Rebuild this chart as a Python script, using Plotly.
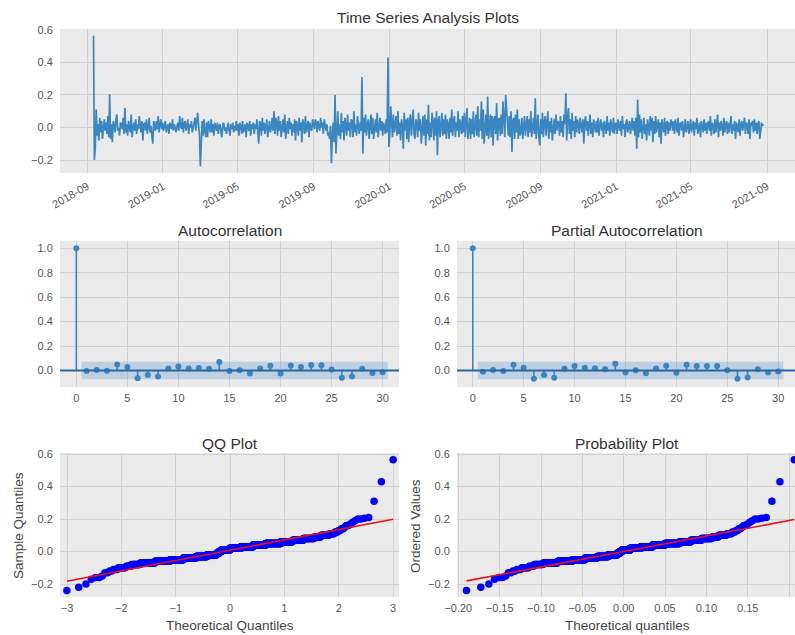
import numpy as np
import pandas as pd
import plotly.graph_objects as go
from statistics import NormalDist

# ---------------- data ----------------
returns_2018 = [
    0.565, -0.20, -0.12, 0.11, -0.05, 0.02, -0.08, 0.06, -0.03, 0.04, -0.07, 0.01, 0.05, -0.02,
    0.03, -0.04, 0.07, -0.06, 0.205, -0.07, 0.02, -0.09, 0.04, 0.01, -0.03, 0.05, 0.08, -0.02, 0.00, -0.05, 0.03, 0.02, -0.01, 0.06, -0.04, 0.12, -0.03,
    0.02, -0.05, 0.04, 0.01, -0.03, 0.08, -0.06, 0.00, 0.03, -0.02, 0.05, -0.04, 0.02, -0.01, 0.07, 0.01, -0.03, 0.04, -0.08, 0.02, 0.03,
    -0.02, 0.05, -0.04, 0.03, 0.06, -0.03, 0.01, -0.05, -0.10, 0.04, 0.00, -0.02, 0.04, -0.01, 0.07, -0.03, 0.02, 0.05, -0.01,
]
returns_2019 = [
    0.03, -0.02, 0.01, 0.04, -0.03, 0.00, 0.02, -0.04, 0.03, 0.01, -0.01, 0.05, -0.02, 0.02, 0.00, -0.03, 0.01, 0.03, -0.02, 0.07, 0.01,
    -0.01, 0.06, -0.03, 0.02, 0.04, -0.02, 0.01, 0.05, -0.04, 0.02, 0.00, 0.04, -0.03, 0.01, 0.03, 0.06, -0.02, 0.04, 0.09,
    0.02, -0.04, -0.24, -0.07, 0.04, -0.05, 0.05, -0.02, -0.06, 0.03, -0.06, 0.04, 0.01, -0.03, 0.05, -0.03, 0.02, -0.05, 0.03, 0.00, -0.02,
    0.03, -0.04, 0.01, 0.02, -0.03, -0.06, 0.02, 0.03, -0.02, 0.00, -0.04, 0.01, 0.03, -0.02, -0.05, 0.02, -0.01, 0.03, -0.03, 0.01, -0.02,
    0.04, -0.02, 0.02, -0.05, 0.03, 0.01, -0.04, 0.04, -0.03, 0.00, 0.02, -0.06, 0.03, 0.01, -0.02, 0.04, -0.05, 0.02, -0.01, 0.03, -0.04, 0.02,
    -0.01, 0.05, -0.03, -0.10, 0.04, 0.02, -0.05, 0.06, -0.02, 0.03, -0.04, 0.01, 0.05, -0.06, 0.02, 0.04, -0.03, 0.00, 0.06, -0.02,
    0.10, -0.04, 0.06, 0.03, -0.05, 0.07, -0.02, 0.04, -0.06, 0.01, 0.05, -0.03, 0.08, -0.07, 0.02, 0.04, -0.04, 0.06, -0.01, 0.03, -0.05, 0.02,
    -0.03, 0.05, -0.08, 0.04, 0.01, -0.05, 0.06, -0.02, 0.03, -0.09, 0.05, 0.02, -0.04, 0.07, -0.03, 0.01, 0.04, -0.06, 0.03, 0.00, -0.02, 0.05,
    0.02, -0.01, 0.05, 0.03, -0.03, 0.04, 0.01, -0.02, 0.06, 0.00, 0.03, -0.04, 0.05, 0.01, -0.02, 0.02, -0.05, -0.03, -0.07, 0.01,
    -0.22, -0.04, 0.03, -0.09, 0.20, -0.16, 0.05, 0.10, -0.05, 0.02, -0.07, 0.09, -0.03, 0.04, -0.08, 0.06, 0.01, -0.05, 0.08, -0.02, 0.03, -0.06, 0.05,
    0.04, -0.06, 0.10, -0.03, 0.02, -0.05, 0.07, 0.01, -0.04, 0.03, -0.02, 0.31, -0.16, 0.06, -0.03, 0.08, -0.05, 0.02, 0.05, -0.07,
    0.03, 0.08, -0.04, 0.06, -0.07, 0.02, 0.05, -0.03, 0.09, -0.06, 0.01, 0.06, -0.02, 0.04, -0.05, 0.03, 0.00, -0.04, 0.05, -0.03, 0.43,
]
returns_2020 = [
    -0.12, -0.04, 0.13, 0.04, -0.06, 0.08, -0.03, 0.02, 0.07, -0.05, 0.10, -0.04, 0.03, -0.08, 0.05, 0.01, -0.13, 0.09, -0.02, 0.05, -0.07,
    0.06, -0.09, 0.04, 0.08, -0.05, 0.02, 0.11, -0.04, -0.07, 0.05, 0.03, -0.06, 0.09, -0.02, 0.05, -0.10, 0.04, 0.07, -0.05,
    0.08, -0.11, 0.05, -0.04, 0.14, -0.08, 0.03, -0.06, 0.09, 0.04, -0.08, 0.06, -0.05, 0.10, -0.17, 0.04, 0.07, -0.06, 0.02, 0.09, -0.05, 0.05,
    -0.04, 0.08, -0.07, 0.05, 0.02, -0.07, 0.06, -0.03, 0.11, -0.05, 0.04, 0.07, -0.06, 0.03, -0.02, 0.10, -0.06, 0.05, 0.01, -0.04, 0.07,
    -0.03, 0.09, -0.06, 0.04, 0.12, -0.07, 0.02, 0.06, -0.07, 0.05, -0.04, 0.10, -0.06, 0.03, 0.08, -0.05, 0.13, -0.06, 0.05, -0.02,
    0.16, -0.07, 0.11, -0.10, 0.05, 0.08, -0.05, 0.19, -0.07, 0.03, 0.08, -0.06, 0.07, -0.11, 0.05, 0.07, -0.04, 0.15, -0.08, 0.04, 0.06, -0.05,
    0.08, -0.04, 0.16, 0.05, -0.06, 0.20, 0.14, 0.03, -0.05, 0.07, -0.06, 0.10, -0.15, 0.04, 0.06, -0.07, 0.08, -0.03, 0.11, -0.07, 0.05, -0.05,
    -0.03, 0.06, -0.07, 0.04, 0.07, -0.05, 0.02, 0.07, -0.06, 0.05, -0.03, 0.10, -0.06, 0.03, 0.06, -0.04, 0.18, -0.07, 0.04, 0.08, -0.06,
    -0.11, 0.05, -0.04, 0.09, -0.06, 0.03, 0.07, -0.05, 0.02, 0.10, -0.07, 0.04, -0.03, 0.06, -0.08, 0.03, 0.05, -0.04, 0.08, -0.02, 0.04,
    0.03, -0.05, 0.07, -0.03, 0.04, -0.06, 0.08, 0.02, 0.21, -0.08, 0.06, 0.12, -0.04, 0.05, -0.07, 0.09, -0.02, 0.04, -0.06, 0.07, -0.03, 0.05,
    0.02, -0.04, 0.06, 0.01, -0.03, 0.05, -0.10, 0.03, 0.07, -0.02, 0.04, -0.05, 0.02, 0.08, -0.04, 0.03, -0.06, 0.05, 0.01, -0.03,
    0.04, -0.03, 0.06, -0.05, 0.02, 0.05, -0.02, 0.03, -0.06, 0.04, 0.01, -0.04, 0.07, -0.02, 0.03, -0.05, 0.05, 0.00, -0.03, 0.06, -0.04, 0.02,
]
returns_2021 = [
    0.03, -0.04, 0.05, 0.01, -0.02, 0.04, -0.05, 0.07, -0.01, 0.02, -0.06, 0.03, 0.05, -0.03, 0.01, 0.04, -0.04, 0.02, 0.06, -0.02,
    0.04, -0.05, 0.06, -0.13, 0.17, -0.06, 0.08, -0.03, 0.05, -0.07, 0.03, 0.06, -0.04, 0.02, -0.08, 0.05, 0.01, -0.05, 0.07,
    -0.02, 0.06, -0.09, 0.04, -0.04, 0.07, -0.03, 0.02, 0.05, -0.06, 0.03, -0.10, 0.05, 0.01, -0.03, 0.06, -0.05, 0.02, 0.04, -0.04, 0.03, -0.02, 0.05,
    0.03, -0.02, 0.04, -0.04, 0.05, 0.01, -0.03, 0.06, -0.05, 0.02, 0.03, -0.02, 0.04, -0.06, 0.02, 0.05, -0.03, 0.01, 0.04, -0.04, 0.02,
    0.05, -0.03, 0.02, 0.04, -0.05, 0.03, -0.01, 0.06, -0.04, 0.02, 0.03, -0.06, 0.04, 0.01, -0.03, 0.05, -0.02, 0.03, -0.04, 0.02,
    0.04, -0.02, 0.07, -0.05, 0.03, 0.01, -0.04, 0.05, -0.03, 0.02, 0.08, -0.06, 0.03, -0.02, 0.04, 0.01, -0.05, 0.06, -0.03, 0.02, 0.04, -0.04,
    0.03, -0.03, 0.05, 0.07, -0.04, 0.02, -0.02, 0.04, -0.07, 0.03, 0.01, -0.03, 0.05, -0.05, 0.02, 0.04, -0.02, 0.01, 0.06, -0.04, 0.03,
    0.02, -0.04, 0.05, -0.07, 0.03, 0.01, 0.04, -0.03, 0.05, -0.02, 0.03, -0.04, 0.02, 0.04, -0.07, -0.03, 0.03, 0.01, 0.02,
]
series_start = "2018-09-11"
series_end = "2021-08-26"

acf_lags = list(range(31))
acf_values = [1.0, -0.005, 0.005, -0.003, 0.05, 0.028, -0.063, -0.036, -0.05, 0.016, 0.033,
              0.016, 0.02, 0.014, 0.07, -0.005, 0.003, -0.025, 0.016, 0.038, -0.025,
              0.04, 0.028, 0.045, 0.043, 0.008, -0.06, -0.05, 0.014, -0.02, -0.015]
pacf_values = [1.0, -0.01, 0.005, -0.005, 0.047, 0.022, -0.068, -0.036, -0.06, 0.014, 0.036,
               0.022, 0.019, 0.011, 0.055, -0.016, 0.003, -0.022, 0.016, 0.039, -0.019,
               0.047, 0.036, 0.036, 0.036, 0.003, -0.068, -0.058, 0.011, -0.016, -0.008]
conf_limit = 0.072

titles = ["Time Series Analysis Plots", "Autocorrelation", "Partial Autocorrelation",
          "QQ Plot", "Probability Plot"]

# ---------------- derived quantities ----------------
values = np.array(returns_2018 + returns_2019 + returns_2020 + returns_2021, dtype=float)
dates = pd.date_range(series_start, series_end, periods=len(values))

n = len(values)
nd = NormalDist()
sorted_vals = np.sort(values)
mu, sd = values.mean(), values.std()

# statsmodels-style QQ (plotting positions i/(n+1)), standardized line
qq_theo = np.array([nd.inv_cdf(i / (n + 1)) for i in range(1, n + 1)])
qq_line_x = np.array([qq_theo[0], qq_theo[-1]])
qq_line_y = mu + sd * qq_line_x

# scipy-style probability plot (Filliben positions), loc/scale = mean/std
m_n = 0.5 ** (1.0 / n)
unif = np.empty(n)
unif[-1] = m_n
unif[0] = 1 - m_n
unif[1:-1] = (np.arange(2, n) - 0.3175) / (n + 0.365)
osm = mu + sd * np.array([nd.inv_cdf(u) for u in unif])
slope, intercept = np.polyfit(osm, sorted_vals, 1)
pp_line_x = np.array([osm[0], osm[-1]])
pp_line_y = intercept + slope * pp_line_x


def stems(lags, vals):
    xs, ys = [], []
    for l, v in zip(lags, vals):
        xs += [l, l, None]
        ys += [0, v, None]
    return xs, ys


# ---------------- styling ----------------
FONT = "Liberation Sans, Arial, Helvetica, sans-serif"
BG = "#EAEAEA"
GRID = "#D0D0D0"
BLUE = "#3A86C0"
TICK = "#555555"

W, H = 795, 635
L, R, T, B = 60, 0, 29, 38
PW, PH = W - L - R, H - T - B


def px(xp):
    return (xp - L) / PW


def py(yp):
    return (H - B - yp) / PH


fig = go.Figure()

# time series
fig.add_trace(go.Scatter(x=dates, y=values, mode="lines", line=dict(color=BLUE, width=1.7),
                         xaxis="x", yaxis="y", hoverinfo="skip"))


def add_corr(lags, vals, xa, ya):
    bx0, bx1 = lags[1] - 0.5, lags[-1] + 0.5
    fig.add_trace(go.Scatter(x=[bx0, bx1, bx1, bx0, bx0],
                             y=[-conf_limit, -conf_limit, conf_limit, conf_limit, -conf_limit],
                             fill="toself", fillcolor="rgba(90,150,205,0.30)",
                             line=dict(width=0), mode="lines", xaxis=xa, yaxis=ya, hoverinfo="skip"))
    sx, sy = stems(lags, vals)
    fig.add_trace(go.Scatter(x=sx, y=sy, mode="lines", line=dict(color=BLUE, width=1.6),
                             xaxis=xa, yaxis=ya, hoverinfo="skip"))
    fig.add_trace(go.Scatter(x=lags, y=vals, mode="markers",
                             marker=dict(color=BLUE, size=6), xaxis=xa, yaxis=ya, hoverinfo="skip"))
    fig.add_shape(type="line", xref=f"{xa} domain", yref=ya, x0=0, x1=1, y0=0, y1=0,
                  line=dict(color="#2A66A6", width=2))


add_corr(acf_lags, acf_values, "x2", "y2")
add_corr(acf_lags, pacf_values, "x3", "y3")

# QQ plot
fig.add_trace(go.Scatter(x=qq_theo, y=sorted_vals, mode="markers",
                         marker=dict(color="#0000FF", size=7.5), xaxis="x4", yaxis="y4", hoverinfo="skip"))
fig.add_trace(go.Scatter(x=qq_line_x, y=qq_line_y, mode="lines", line=dict(color="#EE1111", width=1.6),
                         xaxis="x4", yaxis="y4", hoverinfo="skip"))

# Probability plot
fig.add_trace(go.Scatter(x=osm, y=sorted_vals, mode="markers",
                         marker=dict(color="#0000FF", size=7.5), xaxis="x5", yaxis="y5", hoverinfo="skip"))
fig.add_trace(go.Scatter(x=pp_line_x, y=pp_line_y, mode="lines", line=dict(color="#EE1111", width=1.6),
                         xaxis="x5", yaxis="y5", hoverinfo="skip"))


def ax(**kw):
    d = dict(showgrid=True, gridcolor=GRID, gridwidth=1, zeroline=False, showline=False,
             ticks="outside", ticklen=4, tickcolor="rgba(0,0,0,0)",
             tickfont=dict(size=11, color=TICK, family=FONT), fixedrange=True)
    d.update(kw)
    return d


left_dom = [0, px(399)]
right_dom = [px(457), 1]

layout = dict(
    width=W, height=H, margin=dict(l=L, r=R, t=T, b=B),
    paper_bgcolor="white", plot_bgcolor=BG, showlegend=False,
    font=dict(family=FONT, color="#333333"),
    xaxis=ax(domain=[0, 1], anchor="y", type="date",
             range=["2018-07-19", "2021-10-16"], tick0="2018-09-01", dtick="M4",
             tickformat="%Y-%m", tickangle=-30, ticklen=2),
    yaxis=ax(domain=[py(173), 1], anchor="x", range=[-0.28, 0.606],
             tickvals=[-0.2, 0.0, 0.2, 0.4, 0.6], tickformat=".1f"),
    xaxis2=ax(domain=left_dom, anchor="y2", range=[-1.6, 31.6], tickvals=[0, 5, 10, 15, 20, 25, 30], ticklen=1),
    yaxis2=ax(domain=[py(387), py(241)], anchor="x2", range=[-0.135, 1.06],
              tickvals=[0.0, 0.2, 0.4, 0.6, 0.8, 1.0], tickformat=".1f"),
    xaxis3=ax(domain=right_dom, anchor="y3", range=[-1.55, 31.65], tickvals=[0, 5, 10, 15, 20, 25, 30], ticklen=1),
    yaxis3=ax(domain=[py(387), py(241)], anchor="x3", range=[-0.135, 1.06],
              tickvals=[0.0, 0.2, 0.4, 0.6, 0.8, 1.0], tickformat=".1f"),
    xaxis4=ax(domain=left_dom, anchor="y4", range=[-3.13, 3.11], tickvals=[-3, -2, -1, 0, 1, 2, 3], ticklen=1),
    yaxis4=ax(domain=[0, py(453)], anchor="x4", range=[-0.28, 0.607],
              tickvals=[-0.2, 0.0, 0.2, 0.4, 0.6], tickformat=".1f"),
    xaxis5=ax(domain=right_dom, anchor="y5", range=[-0.2016, 0.2072],
              tickvals=[-0.20, -0.15, -0.10, -0.05, 0.0, 0.05, 0.10, 0.15, 0.20], tickformat=".2f", ticklen=1),
    yaxis5=ax(domain=[0, py(453)], anchor="x5", range=[-0.28, 0.607],
              tickvals=[-0.2, 0.0, 0.2, 0.4, 0.6], tickformat=".1f"),
)
fig.update_layout(**layout)

TITLE_FONT = dict(size=15.5, color="#333333", family=FONT)
LABEL_FONT = dict(size=13.5, color="#444444", family=FONT)
ann = [
    (titles[0], 428, 17, TITLE_FONT, 0),
    (titles[1], 230, 230, TITLE_FONT, 0),
    (titles[2], 627, 230, TITLE_FONT, 0),
    (titles[3], 230, 443, TITLE_FONT, 0),
    (titles[4], 627, 443, TITLE_FONT, 0),
    ("Theoretical Quantiles", 230, 625, LABEL_FONT, 0),
    ("Theoretical quantiles", 627, 625, LABEL_FONT, 0),
    ("Sample Quantiles", 18, 526, LABEL_FONT, -90),
    ("Ordered Values", 415, 526, LABEL_FONT, -90),
]
for text, xp, yp, f, ang in ann:
    fig.add_annotation(text=text, xref="paper", yref="paper", x=px(xp), y=py(yp),
                       xanchor="center", yanchor="middle", showarrow=False, font=f, textangle=ang)

fig.write_html("out.html", config={"displayModeBar": False},
               post_script="document.body.style.margin='0px';document.body.style.overflow='hidden';")
